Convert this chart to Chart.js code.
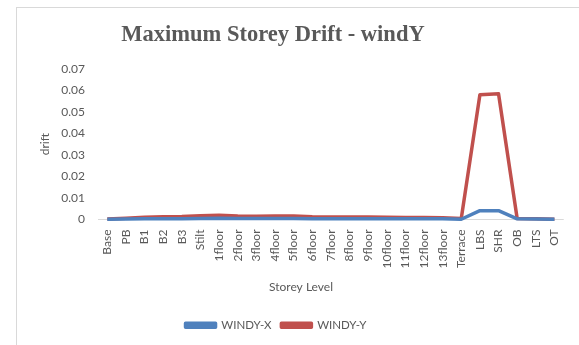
<!DOCTYPE html>
<html>
<head>
<meta charset="utf-8">
<script src="https://cdn.jsdelivr.net/npm/chart.js@4.4.1/dist/chart.umd.min.js"></script>
<style>
  html, body { margin: 0; padding: 0; background: #ffffff; }
  #wrap { position: relative; width: 579px; height: 345px; overflow: hidden; }
  #frame { position: absolute; left: 16px; top: 7px; width: 600px; height: 400px; border: 1px solid #d9d9d9; box-sizing: border-box; }
  #c { position: absolute; left: 0; top: 0; }
</style>
</head>
<body>
<div id="wrap">
  <div id="frame"></div>
  <canvas id="c" width="579" height="345"></canvas>
</div>
<script>
// Storey levels along the building height
const storeys = ['Base', 'PB', 'B1', 'B2', 'B3', 'Stilt',
  '1floor', '2floor', '3floor', '4floor', '5floor', '6floor', '7floor',
  '8floor', '9floor', '10floor', '11floor', '12floor', '13floor',
  'Terrace', 'LBS', 'SHR', 'OB', 'LTS', 'OT'];

// Maximum storey drift, wind load in Y direction
const windyX = [0.0001, 0.0002, 0.0003, 0.0004, 0.0004, 0.0005,
  0.0006, 0.0005, 0.0005, 0.0005, 0.0005, 0.0004, 0.0004,
  0.0004, 0.0004, 0.0003, 0.0003, 0.0003, 0.0003,
  0.0001, 0.0041, 0.0041, 0.0003, 0.0002, 0.0001];
const windyY = [0.0002, 0.0006, 0.0011, 0.0013, 0.0014, 0.0017,
  0.0020, 0.0016, 0.0015, 0.0016, 0.0016, 0.0013, 0.0012,
  0.0012, 0.0012, 0.0010, 0.0009, 0.0009, 0.0008,
  0.0005, 0.0580, 0.0585, 0.0005, 0.0004, 0.0001];

const yTicks = [0, 0.01, 0.02, 0.03, 0.04, 0.05, 0.06, 0.07];

const textColor = '#595959';
const bodyFont = 'Lato, "Open Sans", sans-serif';

// Centre the title, legend and x-axis title over the framed chart body
const centreBlocks = {
  id: 'centreBlocks',
  afterLayout(chart) {
    if (chart.titleBlock) { chart.titleBlock.left = 16; chart.titleBlock.right = 530; }
    if (chart.legend) { chart.legend.left = 18; chart.legend.right = 534; }
    const x = chart.scales.x;
    if (x) { x.right = x.left + 406; }
  }
};

new Chart(document.getElementById('c'), {
  type: 'line',
  data: {
    labels: storeys,
    datasets: [
      { label: 'WINDY-X', data: windyX, borderColor: '#4F81BD', backgroundColor: '#4F81BD',
        borderWidth: 3.5, pointRadius: 0, tension: 0, borderJoinStyle: 'round', clip: false },
      { label: 'WINDY-Y', data: windyY, borderColor: '#C0504D', backgroundColor: '#C0504D',
        borderWidth: 3.5, pointRadius: 0, tension: 0, borderJoinStyle: 'round', clip: false }
    ]
  },
  plugins: [centreBlocks],
  options: {
    responsive: false,
    animation: false,
    devicePixelRatio: 1,
    layout: { padding: { left: 30, right: 9, top: 0, bottom: 4 } },
    plugins: {
      title: {
        display: true,
        text: 'Maximum Storey Drift - windY',
        color: textColor,
        font: { family: '"Liberation Serif", "Times New Roman", serif', size: 22.5, weight: 'bold' },
        padding: { top: 22, bottom: 20 }
      },
      legend: {
        position: 'bottom',
        labels: {
          color: textColor,
          font: { family: bodyFont, size: 11.5 },
          boxWidth: 30,
          boxHeight: 4,
          padding: 10
        }
      },
      tooltip: { enabled: false }
    },
    scales: {
      x: {
        offset: true,
        grid: { display: false, drawTicks: false },
        border: { display: false },
        ticks: {
          color: textColor, font: { family: bodyFont, size: 12 },
          minRotation: 90, maxRotation: 90, autoSkip: false, padding: 10
        },
        title: {
          display: true, text: 'Storey Level', color: textColor,
          font: { family: bodyFont, size: 12 }, padding: { top: 0, bottom: 15 }
        },
        afterFit(s) { s.height = 90; }
      },
      y: {
        min: 0, max: 0.07,
        // only the zero line is drawn, acting as the category axis line
        grid: {
          drawTicks: false,
          color: ctx => (ctx.tick && ctx.tick.value === 0 ? '#d9d9d9' : 'rgba(0,0,0,0)'),
          lineWidth: 1
        },
        border: { display: false },
        afterBuildTicks(s) { s.ticks = yTicks.map(v => ({ value: v })); },
        ticks: {
          color: textColor, font: { family: bodyFont, size: 12 }, padding: 13,
          callback: v => String(v)
        },
        title: {
          display: true, text: 'drift', color: textColor,
          font: { family: bodyFont, size: 12 }, padding: { top: 8, bottom: 0 }
        },
        afterFit(s) { s.width = 68; }
      }
    }
  }
});
</script>
</body>
</html>
